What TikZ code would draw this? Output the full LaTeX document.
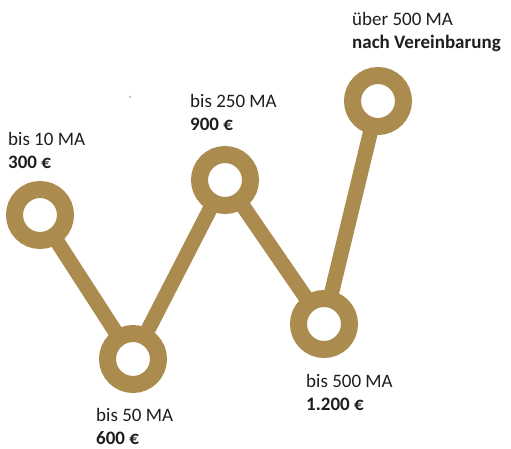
\documentclass[tikz,border=0pt]{standalone}
\usepackage{fontspec}
\setmainfont{Carlito}
\definecolor{gold}{RGB}{172,139,79}
\definecolor{txt}{RGB}{30,30,30}
\begin{document}
\begin{tikzpicture}[x=1pt,y=-1pt,
  ring/.style={circle, draw=gold, line width=17pt, fill=white, minimum size=51pt, inner sep=0pt},
  link/.style={draw=gold, line width=15pt},
  lbl/.style={anchor=base west, inner sep=0pt, text=txt, font=\fontsize{19}{23}\selectfont},
  lblb/.style={lbl, font=\fontsize{19}{23}\selectfont\bfseries}]
\useasboundingbox[fill=white] (0,0) rectangle (511,449);
\coordinate (p1) at (40,215);
\coordinate (p2) at (133,359);
\coordinate (p3) at (225,180);
\coordinate (p4) at (324,324);
\coordinate (p5) at (378,101);
\draw[link] (p1) -- (p2) -- (p3) -- (p4) -- (p5);
\node[ring] (c1) at (p1) {};
\node[ring] (c2) at (p2) {};
\node[ring] (c3) at (p3) {};
\node[ring] (c4) at (p4) {};
\node[ring] (c5) at (p5) {};
\node[lbl]  (a1) at (8,146) {bis 10 MA};
\node[lblb] (b1) at (8,169) {300 €};
\node[lbl]  (a2) at (96,421) {bis 50 MA};
\node[lblb] (b2) at (96,444) {600 €};
\node[lbl]  (a3) at (190,108) {bis 250 MA};
\node[lblb] (b3) at (190,131) {900 €};
\node[lbl]  (a4) at (306,387) {bis 500 MA};
\node[lblb] (b4) at (306,410) {1.200 €};
\node[lbl]  (a5) at (352,26) {über 500 MA};
\node[lblb] (b5) at (352,49) {nach Vereinbarung};
\fill[gray!60] (130,97) circle (1.2);
\end{tikzpicture}
\end{document}
